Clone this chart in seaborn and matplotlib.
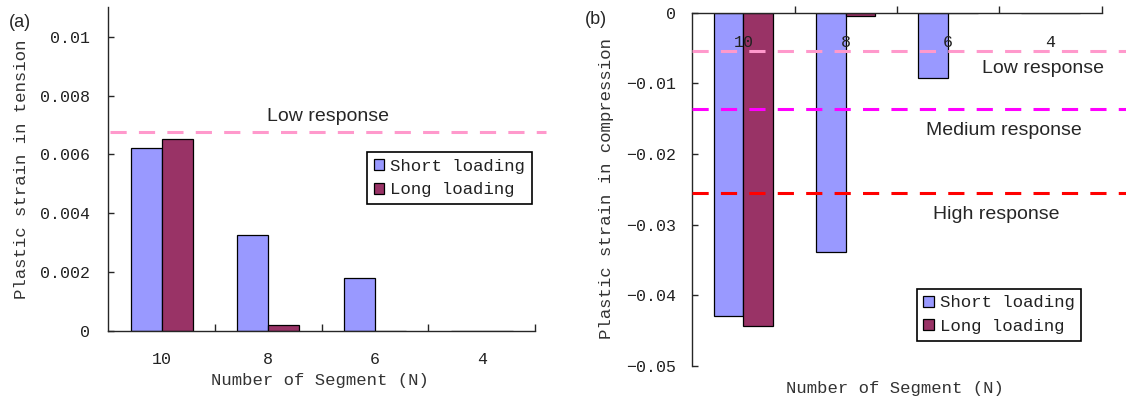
import matplotlib
matplotlib.use("Agg")
import matplotlib.pyplot as plt
import pandas as pd
import seaborn as sns

# ---------------- data ----------------
segments = ["10", "8", "6", "4"]
series_names = ["Short loading", "Long loading"]

tension_short = [0.00622, 0.00326, 0.00179, 0.0]
tension_long = [0.00653, 0.00020, 0.0, 0.0]
compression_short = [-0.0429, -0.0338, -0.0092, 0.0]
compression_long = [-0.0444, -0.00042, 0.0, 0.0]

tension_thresholds = [0.00677]
tension_threshold_labels = ["Low response"]
compression_thresholds = [-0.00542, -0.01367, -0.02557]
compression_threshold_labels = ["Low response", "Medium response", "High response"]

tension_yticks = [0, 0.002, 0.004, 0.006, 0.008, 0.01]
tension_yticklabels = ["0", "0.002", "0.004", "0.006", "0.008", "0.01"]
compression_yticks = [0, -0.01, -0.02, -0.03, -0.04, -0.05]
compression_yticklabels = ["0", "\u22120.01", "\u22120.02", "\u22120.03", "\u22120.04", "\u22120.05"]

# ---------------- style ----------------
sns.set_style("ticks")
plt.rcParams["font.family"] = ["Liberation Mono", "DejaVu Sans"]
plt.rcParams["axes.linewidth"] = 1.0
plt.rcParams["axes.axisbelow"] = False

MONO = ["Liberation Mono", "DejaVu Sans"]
SANS = ["Liberation Sans", "DejaVu Sans"]
bar_colors = ["#9999FF", "#993366"]
line_colors_t = ["#FF99CC"]
line_colors_c = ["#FF99CC", "#FF00FF", "#FF0000"]

W, H = 1126, 403
fig = plt.figure(figsize=(W / 100, H / 100), dpi=100)


def px_axes(x0, x1, ytop, ybot):
    return fig.add_axes([x0 / W, 1 - ybot / H, (x1 - x0) / W, (ybot - ytop) / H])


def long_df(short, long_):
    return pd.DataFrame({
        "segment": segments * 2,
        "value": list(short) + list(long_),
        "series": [series_names[0]] * len(segments) + [series_names[1]] * len(segments),
    })


def draw_bars(ax, df):
    sns.barplot(data=df, x="segment", y="value", hue="series", order=segments,
                hue_order=series_names, palette=bar_colors, width=0.58, gap=0,
                edgecolor="black", linewidth=0.9, saturation=1, errorbar=None, ax=ax)


def style_legend(ax, anchor):
    handles, labels = ax.get_legend_handles_labels()
    leg = ax.legend(handles, labels, loc="upper left", bbox_to_anchor=anchor,
                    bbox_transform=fig.transFigure, frameon=True, fancybox=False,
                    framealpha=1, edgecolor="black", prop={"family": MONO, "size": 12.5},
                    handlelength=0.6, handleheight=0.6, handletextpad=0.35,
                    labelspacing=0.5, borderpad=0.38, borderaxespad=0)
    leg.get_frame().set_linewidth(1.2)
    leg.set_zorder(10)
    for t in leg.get_texts():
        t.set_color("#222222")


# ---------------- (a) tension ----------------
ax1 = px_axes(108.3, 535.0, 7.3, 331.0)
draw_bars(ax1, long_df(tension_short, tension_long))
ax1.set_axisbelow(False)
ax1.set_xlim(-0.5, 3.5)
ax1.set_ylim(0, 0.011)
ax1.set_xlabel("")
ax1.set_ylabel("")
ax1.set_xticks(range(len(segments)))
ax1.set_xticklabels(segments, fontsize=12, family=MONO, color="#222222")
ax1.set_xticks([0.5, 1.5, 2.5, 3.5], minor=True)
ax1.tick_params(axis="x", which="major", length=0, pad=15)
ax1.tick_params(axis="x", which="minor", direction="in", length=5, width=1)
ax1.set_yticks(tension_yticks)
ax1.set_yticklabels(tension_yticklabels, fontsize=12, family=MONO, color="#222222")
ax1.tick_params(axis="y", direction="in", length=4, width=1, pad=13)
ax1.spines["top"].set_visible(False)
ax1.spines["right"].set_visible(False)
for v, c in zip(tension_thresholds, line_colors_t):
    ax1.axhline(v, xmin=0.005, xmax=1.026, color=c, lw=2.2, ls=(0, (5.3, 4)), clip_on=False, zorder=5)
ax1.text(0.516, 0.662, tension_threshold_labels[0], transform=ax1.transAxes,
         ha="center", va="center", family=SANS, fontsize=14)
style_legend(ax1, (367.3 / W, 1 - 152 / H))

# ---------------- (b) compression ----------------
ax2 = px_axes(692.3, 1101.5, 12.7, 366.0)
draw_bars(ax2, long_df(compression_short, compression_long))
ax2.set_axisbelow(False)
ax2.set_xlim(-0.5, 3.5)
ax2.set_ylim(-0.05, 0)
ax2.set_xlabel("")
ax2.set_ylabel("")
ax2.spines["bottom"].set_position(("data", 0))
ax2.spines["top"].set_visible(False)
ax2.spines["right"].set_visible(False)
ax2.set_xticks(range(len(segments)))
ax2.set_xticklabels(segments, fontsize=12, family=MONO, color="#222222")
ax2.set_xticks([0.5, 1.5, 2.5, 3.5], minor=True)
ax2.tick_params(axis="x", which="major", length=0, pad=16)
ax2.tick_params(axis="x", which="minor", direction="in", length=5, width=1)
ax2.set_yticks(compression_yticks)
ax2.set_yticklabels(compression_yticklabels, fontsize=12, family=MONO, color="#222222")
ax2.tick_params(axis="y", direction="in", length=4, width=1, pad=11.5)
ax2.xaxis.set_zorder(6)
for v, c in zip(compression_thresholds, line_colors_c):
    ax2.axhline(v, xmin=0.0, xmax=1.07, color=c, lw=2.2, ls=(0, (5.3, 4)), clip_on=False, zorder=5)
label_pos = [(0.858, 0.8426), (0.762, 0.666), (0.744, 0.4274)]
for (tx, ty), lab in zip(label_pos, compression_threshold_labels):
    ax2.text(tx, ty, lab, transform=ax2.transAxes, ha="center", va="center",
             family=SANS, fontsize=14)
style_legend(ax2, (916.7 / W, 1 - 288.7 / H))

# ---------------- figure-level labels ----------------
def ftext(x, y, s, **kw):
    fig.text(x / W, 1 - y / H, s, ha="center", va="center", **kw)

ftext(21.7, 169.5, "Plastic strain in tension", rotation=90, family=MONO, fontsize=12.5, color="#333333")
ftext(319.7, 380, "Number of Segment (N)", family=MONO, fontsize=12.4, color="#333333")
ftext(606.5, 188.5, "Plastic strain in compression", rotation=90, family=MONO, fontsize=12.5, color="#333333")
ftext(895, 388.3, "Number of Segment (N)", family=MONO, fontsize=12.4, color="#333333")
ftext(20, 22.5, "(a)", family=SANS, fontsize=13)
ftext(596, 19.5, "(b)", family=SANS, fontsize=13)

fig.savefig("out.png", dpi=100)
